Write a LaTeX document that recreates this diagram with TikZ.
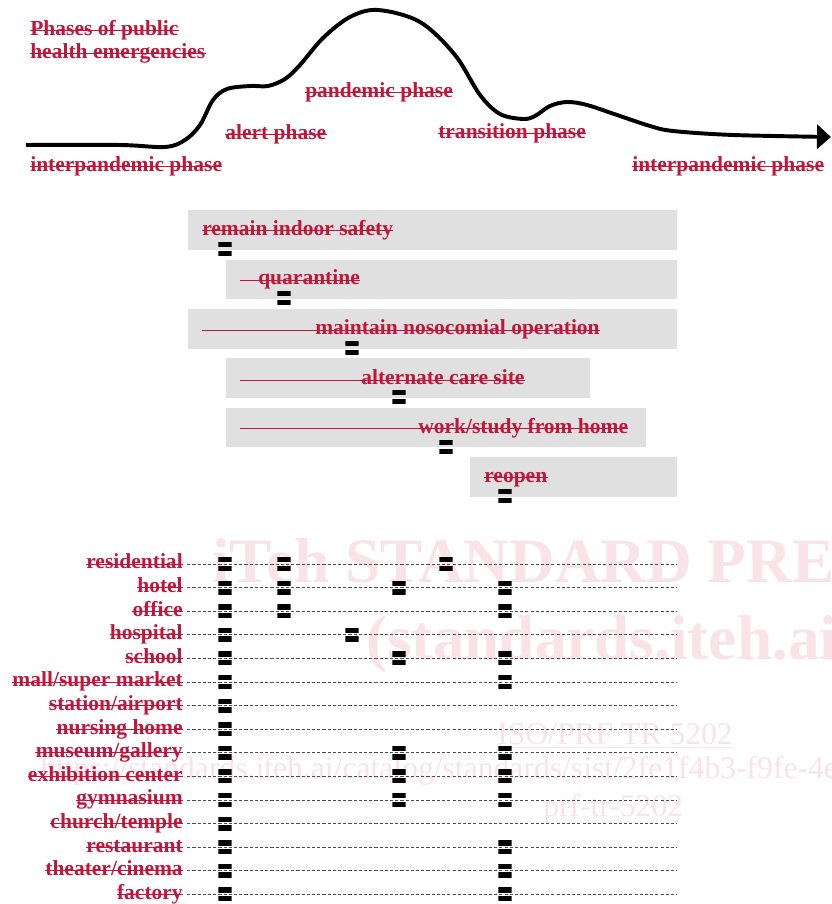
\documentclass[tikz,border=0pt]{standalone}
\usepackage{fontspec}
\setmainfont{Liberation Serif}
\usetikzlibrary{arrows.meta}
\definecolor{hred}{RGB}{192,22,58}
\definecolor{boxgray}{RGB}{224,224,224}
\definecolor{wmpink}{RGB}{250,226,233}
\tikzset{%
	phase/.style={
		text=hred,
		font=\bfseries\fontsize{15.3}{18}\selectfont,
		inner sep=0pt,
		text height=10pt,
		text depth=2.9pt
	},
	place/.style={
		phase,
		anchor=east
	},
	strike/.style={
		draw=hred,
		line width=0.7pt
	},
	curve/.style={
		line width=2.8pt,
		-{Triangle[length=0.35cm,width=0.6cm]}
	},
	rowline/.style={
		black!70,
		line width=0.6pt,
		dash pattern=on 2.2pt off 1.5pt
	},
	dbar/.style={
		minimum width=0.33cm,
		minimum height=0.35cm,
		inner sep=0pt,
		path picture={
			\fill[black] (path picture bounding box.north west) rectangle ([yshift=1.1pt]path picture bounding box.east);
			\fill[black] ([yshift=-1.1pt]path picture bounding box.west) rectangle (path picture bounding box.south east);
		}
	},
	watermark/.style={
		text=wmpink,
		inner sep=0pt,
		anchor=base west
	},
}

\begin{document}
\begin{tikzpicture}
	\useasboundingbox (0,0) rectangle (20.775,22.6);

	% Watermark behind the drawing
	\begin{scope}
		\clip (0,0) rectangle (20.775,22.6);
		\node[watermark, font=\bfseries\fontsize{45}{50}\selectfont] (wm1) at (5.3,8.025) {iTeh STANDARD PREVIEW};
		\node[watermark, font=\bfseries\fontsize{45}{50}\selectfont] (wm2) at (9.15,6.1) {(standards.iteh.ai)};
		\node[watermark, font=\fontsize{22.5}{26}\selectfont] (wm3) at (12.425,3.975) {\underline{ISO/PRF TR 5202}};
		\node[watermark, font=\fontsize{22.5}{26}\selectfont] (wm4) at (1.0,3.125) {https://standards.iteh.ai/catalog/standards/sist/2fe1f4b3-f9fe-4e};
		\node[watermark, font=\fontsize{22.5}{26}\selectfont] (wm5) at (13.575,2.175) {prf-tr-5202};
	\end{scope}

	% Draw the curve of the phases
	\draw[curve] plot[smooth, tension=0.55] coordinates {
		(0.65,18.975) (3.0,18.975) (4.125,18.925) (4.625,19.1) (5.0,19.475)
		(5.325,20.1) (5.675,20.375) (6.25,20.45) (6.7,20.45) (7.125,20.625)
		(7.5,20.975) (8.075,21.65) (8.75,22.175) (9.45,22.35) (10.5,22.05)
		(11.375,21.225) (12.0,20.225) (12.5,19.75)
		(13.075,19.625) (13.375,19.7) (13.75,19.95) (14.175,20.05) (14.675,19.975)
		(15.425,19.725) (16.25,19.45) (16.825,19.325) (18.325,19.225) (20.775,19.175)};

	% Phase labels
	\node[phase, anchor=west] (title1) at (0.75,21.825) {Phases of public};
	\node[phase, anchor=west] (title2) at (0.75,21.25) {health emergencies};
	\node[phase, anchor=west] (interp1) at (0.75,18.425) {interpandemic phase};
	\node[phase, anchor=west] (alert) at (5.625,19.225) {alert phase};
	\node[phase, anchor=west] (pandemic) at (7.625,20.275) {pandemic phase};
	\node[phase, anchor=west] (transition) at (10.95,19.25) {transition phase};
	\node[phase, anchor=west] (interp2) at (15.8,18.425) {interpandemic phase};

	% Draw the grey bars of the measures
	\fill[boxgray] (4.7,16.35) rectangle (16.925,17.35);
	\fill[boxgray] (5.65,15.125) rectangle (16.925,16.1);
	\fill[boxgray] (4.7,13.875) rectangle (16.925,14.875);
	\fill[boxgray] (5.65,12.65) rectangle (14.75,13.65);
	\fill[boxgray] (5.65,11.425) rectangle (16.15,12.4);
	\fill[boxgray] (11.75,10.175) rectangle (16.925,11.175);

	\node[phase, anchor=west] (indoor) at (5.05,16.825) {remain indoor safety};
	\node[phase, anchor=west] (quarantine) at (6.45,15.6) {quarantine};
	\node[phase, anchor=west] (nosocomial) at (7.875,14.35) {maintain nosocomial operation};
	\node[phase, anchor=west] (caresite) at (9.025,13.1) {alternate care site};
	\node[phase, anchor=west] (home) at (10.45,11.8875) {work/study from home};
	\node[phase, anchor=west] (reopen) at (12.1,10.6625) {reopen};

	% Strike lines through the labels
	\foreach \n in {title1,title2,interp1,alert,pandemic,transition,interp2,indoor,reopen}
		\draw[strike] (\n.west) -- (\n.east);
	\coordinate (quarantine start) at (6.0,15.6);
	\coordinate (nosocomial start) at (5.05,14.35);
	\coordinate (caresite start) at (6.0,13.1);
	\coordinate (home start) at (6.0,11.8875);
	\foreach \n in {quarantine,nosocomial,caresite,home}
		\draw[strike] (\n\space start) -- (\n.east);

	% Markers under the bars
	\node[dbar] (m1) at (5.625,16.375) {};
	\node[dbar] (m2) at (7.1,15.15) {};
	\node[dbar] (m3) at (8.8,13.9) {};
	\node[dbar] (m4) at (9.975,12.675) {};
	\node[dbar] (m5) at (11.15,11.425) {};
	\node[dbar] (m6) at (12.625,10.2) {};

	% Building types
	\node[place] (residential) at (4.575,8.5) {residential};
	\node[place] (hotel) at (4.575,7.91) {hotel};
	\node[place] (office) at (4.575,7.32) {office};
	\node[place] (hospital) at (4.575,6.73) {hospital};
	\node[place] (school) at (4.575,6.14) {school};
	\node[place] (mall) at (4.575,5.55) {mall/super market};
	\node[place] (station) at (4.575,4.96) {station/airport};
	\node[place] (nursing) at (4.575,4.37) {nursing home};
	\node[place] (museum) at (4.575,3.78) {museum/gallery};
	\node[place] (exhibition) at (4.575,3.19) {exhibition center};
	\node[place] (gymnasium) at (4.575,2.6) {gymnasium};
	\node[place] (church) at (4.575,2.01) {church/temple};
	\node[place] (restaurant) at (4.575,1.42) {restaurant};
	\node[place] (theater) at (4.575,0.83) {theater/cinema};
	\node[place] (factory) at (4.575,0.24) {factory};

	\foreach \n in {residential,hotel,office,hospital,school,mall,station,nursing,museum,exhibition,gymnasium,church,restaurant,theater,factory} {
		\coordinate (\n\space end) at (16.925,0 |- \n.east);
		\draw[strike] (\n.west) -- (\n.east);
		\draw[rowline] ([xshift=3pt]\n.east) -- (\n\space end);
	}

	% Markers on each row
	\foreach \c in {1,2,5} \node[dbar] (residential-\c) at (m\c |- residential end) {};
	\foreach \c in {1,2,4,6} \node[dbar] (hotel-\c) at (m\c |- hotel end) {};
	\foreach \c in {1,2,6} \node[dbar] (office-\c) at (m\c |- office end) {};
	\foreach \c in {1,3} \node[dbar] (hospital-\c) at (m\c |- hospital end) {};
	\foreach \c in {1,4,6} \node[dbar] (school-\c) at (m\c |- school end) {};
	\foreach \c in {1,6} \node[dbar] (mall-\c) at (m\c |- mall end) {};
	\foreach \c in {1} \node[dbar] (station-\c) at (m\c |- station end) {};
	\foreach \c in {1} \node[dbar] (nursing-\c) at (m\c |- nursing end) {};
	\foreach \c in {1,4,6} \node[dbar] (museum-\c) at (m\c |- museum end) {};
	\foreach \c in {1,4,6} \node[dbar] (exhibition-\c) at (m\c |- exhibition end) {};
	\foreach \c in {1,4,6} \node[dbar] (gymnasium-\c) at (m\c |- gymnasium end) {};
	\foreach \c in {1} \node[dbar] (church-\c) at (m\c |- church end) {};
	\foreach \c in {1,6} \node[dbar] (restaurant-\c) at (m\c |- restaurant end) {};
	\foreach \c in {1,6} \node[dbar] (theater-\c) at (m\c |- theater end) {};
	\foreach \c in {1,6} \node[dbar] (factory-\c) at (m\c |- factory end) {};
\end{tikzpicture}
\end{document}
